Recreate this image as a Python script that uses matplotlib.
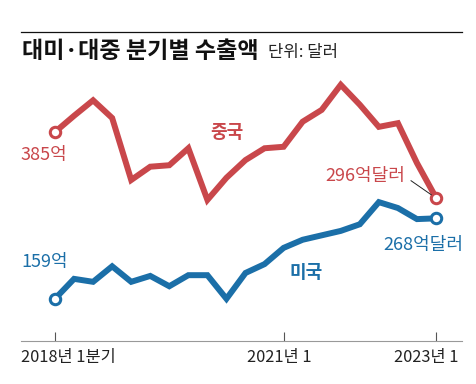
import matplotlib
matplotlib.use("Agg")
import matplotlib.pyplot as plt
import matplotlib.transforms as mtransforms
import numpy as np

plt.rcParams["font.family"] = ["Noto Sans CJK KR", "DejaVu Sans"]

# quarterly exports, 2018 Q1 .. 2023 Q1 (억 달러)
quarters = np.arange(21)
china = [385, 407, 428, 404, 320, 338, 340, 363, 293, 323, 347,
         363, 365, 399, 415, 449, 422, 392, 397, 343, 296]
usa = [159, 186, 182, 203, 182, 190, 176, 191, 191, 159, 194,
       206, 228, 239, 245, 251, 260, 290, 282, 267, 268]
tick_pos = [0, 12, 20]
tick_labels = ["2018년 1분기", "2021년 1", "2023년 1"]

RED = "#c9474b"
BLUE = "#1b6fa8"

W, H = 477, 384
fig = plt.figure(figsize=(W / 100, H / 100), dpi=100)
ax = fig.add_axes([21 / W, 43 / H, 441 / W, 281 / H])

for values, color in ((china, RED), (usa, BLUE)):
    ax.plot(quarters, values, color=color, lw=4.3, solid_joinstyle="miter",
            marker="o", markevery=[0, len(values) - 1], markersize=7.5,
            markerfacecolor="white", markeredgecolor=color, markeredgewidth=2.2,
            zorder=3)

ax.set_xlim(-1.785, 21.365)
ax.set_ylim(101.8, 482.6)
ax.set_yticks([])
ax.set_xticks(tick_pos)
ax.set_xticklabels(tick_labels, fontsize=11.8, color="#222")
ax.tick_params(axis="x", direction="in", length=6.5, width=0.8, color="#555", pad=6)
# labels sit a bit left of their ticks, the first one flush with the axis start
shifts = [(-34, "left"), (-4, "center"), (-10, "center")]
for label, (dx, ha) in zip(ax.get_xticklabels(), shifts):
    label.set_ha(ha)
    label.set_transform(label.get_transform() + mtransforms.ScaledTranslation(dx / 100, 0, fig.dpi_scale_trans))
for side in ("top", "left", "right"):
    ax.spines[side].set_visible(False)
ax.spines["bottom"].set_color("#999")
ax.spines["bottom"].set_linewidth(0.8)
ax.patch.set_alpha(0)

# labels
ax.text(-1.785, 354, "385억", color=RED, fontsize=13, ha="left", va="center")
ax.text(-1.785, 209, "159억", color=BLUE, fontsize=13, ha="left", va="center")
ax.text(9.03, 384, "중국", color=RED, fontsize=13, fontweight="bold", ha="center", va="center")
ax.text(13.2, 195, "미국", color=BLUE, fontsize=13, fontweight="bold", ha="center", va="center")
ax.text(18.37, 325, "296억달러", color=RED, fontsize=13, ha="right", va="center")
ax.text(21.42, 232, "268억달러", color=BLUE, fontsize=13, ha="right", va="center")
ax.plot([18.69, 19.75], [319, 300], color="#222", lw=0.7, zorder=4)

# header
fig.add_artist(plt.Line2D([21 / W, 462 / W], [1 - 32 / H, 1 - 32 / H], color="#111", lw=0.9))
fig.text(22 / W, 1 - 52 / H, "대미·대중 분기별 수출액", fontsize=16.6, fontweight="bold",
         color="#111", ha="left", va="center")
fig.text(268 / W, 1 - 53 / H, "단위: 달러", fontsize=12, color="#222", ha="left", va="center")

fig.savefig("out.png", dpi=100, facecolor="white")
